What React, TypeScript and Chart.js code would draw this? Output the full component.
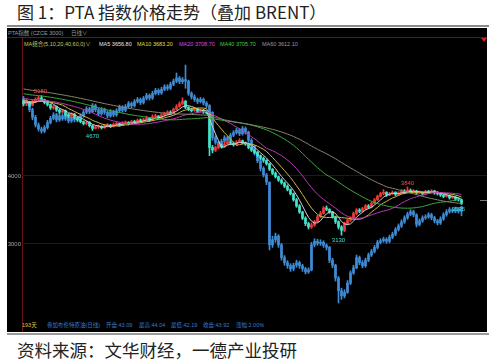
import React, { useEffect, useRef } from 'react';
import { Chart, registerables } from 'chart.js';
Chart.register(...registerables);

// PTA index closes before the visible window (used only for moving averages)
const ptaPrior = [
  5520, 5500, 5480, 5510, 5470, 5450, 5460, 5430, 5440, 5410, 5420, 5390, 5400, 5380, 5370, 5390, 5360, 5350, 5370, 5340,
  5330, 5350, 5320, 5310, 5330, 5300, 5290, 5310, 5280, 5270, 5290, 5260, 5250, 5270, 5240, 5230, 5250, 5220, 5210, 5230,
  5200, 5190, 5210, 5180, 5170, 5190, 5160, 5150, 5170, 5140, 5130, 5150, 5120, 5110, 5130, 5100, 5090, 5110, 5080,
];
const ptaFirstOpen = 5100;
const ptaClose = [
  5060, 5090, 5040, 5100, 5130, 5150, 5120, 5080, 5050, 5000,
  5020, 4970, 4940, 4960, 4900, 4880, 4910, 4860, 4830, 4800,
  4770, 4790, 4740, 4700, 4720, 4730, 4710, 4740, 4750, 4730,
  4760, 4770, 4750, 4780, 4790, 4770, 4800, 4790, 4820, 4810,
  4830, 4850, 4820, 4870, 4880, 4860, 4900, 4910, 4940, 4920,
  4980, 5020, 5060, 5100, 5010, 4980, 4960, 4990, 4950, 4970,
  4940, 4930, 4420, 4380, 4420, 4450, 4430, 4470, 4500, 4480,
  4460, 4500, 4520, 4490, 4470, 4420, 4380, 4350, 4300, 4260,
  4230, 4180, 4100, 4040, 3990, 3940, 3900, 3850, 3800, 3740,
  3650, 3560, 3470, 3380, 3300, 3250, 3280, 3330, 3400, 3450,
  3530, 3510, 3470, 3400, 3330, 3250, 3200, 3300, 3350, 3380,
  3450, 3500, 3480, 3520, 3560, 3540, 3600, 3650, 3700, 3740,
  3760, 3720, 3740, 3760, 3730, 3750, 3780, 3760, 3790, 3770,
  3780, 3750, 3760, 3740, 3770, 3760, 3780, 3750, 3740, 3720,
  3700, 3710, 3680, 3690, 3660, 3650, 3595,
];
const ptaHigh = [
  5120, 5110, 5100, 5120, 5150, 5170, 5180, 5130, 5100, 5060,
  5040, 5030, 4990, 4980, 4970, 4920, 4930, 4920, 4870, 4840,
  4810, 4810, 4800, 4750, 4740, 4750, 4740, 4760, 4770, 4760,
  4780, 4790, 4780, 4800, 4810, 4800, 4820, 4820, 4840, 4840,
  4850, 4880, 4860, 4900, 4910, 4890, 4920, 4940, 4960, 4960,
  5000, 5050, 5090, 5150, 5110, 5020, 5000, 5010, 5000, 4990,
  4980, 4960, 4930, 4450, 4440, 4480, 4470, 4500, 4530, 4520,
  4500, 4520, 4550, 4530, 4500, 4480, 4430, 4390, 4360, 4310,
  4280, 4240, 4190, 4110, 4060, 4000, 3960, 3910, 3870, 3810,
  3750, 3670, 3580, 3480, 3400, 3320, 3310, 3350, 3420, 3480,
  3550, 3560, 3520, 3480, 3410, 3340, 3270, 3320, 3370, 3400,
  3470, 3520, 3520, 3540, 3580, 3580, 3620, 3670, 3720, 3760,
  3800, 3770, 3760, 3780, 3770, 3770, 3800, 3800, 3840, 3810,
  3800, 3790, 3780, 3770, 3790, 3790, 3800, 3790, 3770, 3750,
  3730, 3730, 3720, 3710, 3700, 3680, 3660,
];
const ptaLow = [
  5030, 5040, 5020, 5030, 5080, 5110, 5100, 5060, 5030, 4980,
  4980, 4950, 4920, 4920, 4880, 4860, 4870, 4840, 4810, 4780,
  4750, 4750, 4720, 4670, 4690, 4700, 4690, 4700, 4720, 4710,
  4720, 4740, 4730, 4740, 4770, 4750, 4760, 4770, 4780, 4790,
  4800, 4820, 4800, 4810, 4850, 4840, 4850, 4880, 4900, 4900,
  4910, 4970, 5010, 5050, 4990, 4960, 4940, 4950, 4930, 4940,
  4920, 4910, 4300, 4340, 4360, 4400, 4410, 4420, 4460, 4460,
  4440, 4450, 4490, 4470, 4450, 4400, 4360, 4330, 4280, 4240,
  4200, 4160, 4080, 4020, 3970, 3920, 3880, 3830, 3780, 3720,
  3630, 3540, 3450, 3360, 3270, 3220, 3230, 3260, 3320, 3390,
  3440, 3490, 3450, 3380, 3300, 3220, 3130, 3180, 3280, 3330,
  3370, 3430, 3460, 3470, 3500, 3520, 3530, 3590, 3640, 3690,
  3720, 3700, 3710, 3730, 3710, 3720, 3740, 3740, 3750, 3750,
  3760, 3730, 3740, 3720, 3730, 3740, 3750, 3730, 3720, 3700,
  3680, 3690, 3660, 3670, 3640, 3630, 3580,
];

// Brent overlay (own scale)
const brentFirstOpen = 65.2;
const brentClose = [
  64.8, 64.2, 63.0, 61.5, 60.0, 59.2, 58.8, 59.5, 60.5, 61.3,
  62.0, 61.0, 61.8, 61.2, 61.9, 60.8, 61.5, 61.0, 61.0, 61.8,
  62.5, 63.2, 62.6, 63.8, 63.0, 62.2, 63.0, 62.5, 61.8, 62.6,
  62.0, 62.8, 63.5, 62.9, 63.6, 64.2, 63.8, 64.6, 65.0, 64.4,
  65.2, 65.8, 65.3, 66.2, 66.8, 66.3, 67.0, 67.5, 67.2, 68.0,
  68.6, 69.2, 68.5, 68.9, 68.6, 66.2, 65.5, 65.0, 64.6, 65.0,
  64.3, 63.8, 62.5, 57.5, 56.6, 55.9, 56.8, 57.5, 57.0, 58.0,
  58.5, 59.0, 58.3, 59.3, 58.6, 57.0, 55.8, 54.5, 53.0, 51.5,
  50.2, 48.8, 36.5, 37.5, 38.2, 36.5, 34.0, 33.0, 32.4, 31.8,
  32.5, 33.0, 32.4, 31.8, 31.2, 31.6, 36.5, 37.2, 36.8, 37.0,
  36.4, 36.0, 33.5, 32.5, 30.0, 27.5, 26.5, 27.2, 29.0, 31.0,
  32.0, 34.0, 33.0, 32.4, 33.5, 34.5, 35.2, 36.0, 37.0, 37.3,
  37.6, 37.2, 38.0, 38.6, 39.5, 40.2, 41.0, 41.8, 42.5, 43.0,
  42.4, 40.5, 41.2, 41.8, 42.0, 42.4, 41.8, 41.2, 40.8, 41.6,
  42.4, 43.0, 43.4, 43.1, 43.5, 43.09, 43.92,
];
const brentHigh = [
  65.6, 65.1, 64.5, 63.3, 61.9, 60.4, 59.6, 59.9, 60.9, 61.7,
  62.4, 62.3, 62.2, 62.1, 62.3, 62.2, 61.9, 61.8, 61.4, 62.2,
  62.9, 63.6, 63.5, 64.2, 64.1, 63.3, 63.4, 63.3, 62.8, 63.0,
  62.9, 63.2, 63.9, 63.8, 64.0, 64.6, 64.5, 65.0, 65.4, 65.3,
  65.6, 66.2, 66.1, 66.6, 67.2, 67.1, 67.4, 67.9, 67.9, 68.4,
  69.0, 70.2, 69.5, 69.3, 71.75, 68.8, 66.5, 65.9, 65.3, 65.4,
  65.3, 64.6, 64.0, 62.6, 57.9, 56.9, 57.2, 57.9, 57.8, 58.4,
  58.9, 59.4, 59.3, 59.7, 59.6, 58.8, 57.3, 56.0, 54.8, 53.3,
  51.8, 50.5, 48.8, 38.2, 38.8, 38.5, 36.8, 34.4, 33.4, 32.8,
  32.9, 33.5, 33.3, 32.7, 32.1, 32.0, 37.0, 37.7, 37.6, 37.5,
  37.3, 36.7, 36.2, 33.9, 32.7, 30.3, 28.0, 27.7, 29.5, 31.4,
  32.5, 34.5, 34.3, 33.4, 33.9, 34.9, 35.6, 36.4, 37.4, 37.7,
  38.0, 37.9, 38.4, 39.0, 39.9, 40.6, 41.4, 42.2, 42.9, 43.4,
  43.3, 42.6, 41.6, 42.2, 42.4, 42.8, 42.7, 42.1, 41.5, 42.0,
  42.8, 43.4, 43.8, 43.7, 43.9, 43.8, 44.04,
];
const brentLow = [
  64.4, 63.8, 62.6, 61.0, 59.6, 58.8, 58.4, 58.5, 59.2, 60.2,
  61.0, 60.6, 60.7, 60.9, 60.9, 60.4, 60.5, 60.6, 60.6, 60.7,
  61.5, 62.2, 62.2, 62.4, 62.6, 61.8, 61.9, 62.1, 61.4, 61.5,
  61.6, 61.7, 62.5, 62.5, 62.6, 63.3, 63.4, 63.5, 64.3, 64.0,
  64.1, 64.9, 64.9, 65.0, 65.9, 65.9, 66.0, 66.7, 66.8, 66.9,
  67.7, 68.3, 68.1, 68.1, 67.2, 65.8, 65.1, 64.6, 64.2, 64.3,
  63.9, 63.4, 62.1, 57.0, 56.2, 55.5, 55.6, 56.5, 56.6, 56.7,
  57.7, 58.2, 57.9, 58.0, 58.2, 56.6, 55.4, 54.1, 52.6, 51.0,
  49.8, 48.3, 35.5, 36.0, 37.0, 36.0, 33.5, 32.5, 31.9, 31.3,
  31.4, 32.1, 31.9, 31.3, 30.8, 30.9, 31.4, 36.1, 36.4, 36.4,
  36.0, 35.5, 33.0, 32.0, 29.4, 25.1, 25.8, 26.1, 27.0, 28.7,
  30.7, 31.8, 32.6, 32.0, 32.1, 33.2, 34.2, 34.9, 35.7, 36.7,
  37.0, 36.8, 36.9, 37.7, 38.3, 39.2, 39.9, 40.7, 41.5, 42.2,
  42.0, 40.0, 40.2, 40.9, 41.5, 41.7, 41.4, 40.8, 40.4, 40.5,
  41.3, 42.1, 42.7, 42.8, 42.8, 42.7, 42.19,
];

const maPeriods = [5, 10, 20, 40, 60];
const maColors = ['#d0d0d0', '#d0b840', '#b838b8', '#3ca83c', '#86866f'];
const yTicks = [3000, 4000];
const blankSlots = 8;

// extreme-value labels drawn by the chart software
const markers = [
  { i: 6, src: 'high', color: '#ff4a4a', dx: -1, dy: -4 },
  { i: 23, src: 'low', color: '#40e0d0', dx: 0, dy: 6 },
  { i: 106, src: 'low', color: '#40e0d0', dx: -3, dy: 5 },
  { i: 128, src: 'high', color: '#ff4a4a', dx: 0, dy: -4 },
  { i: 146, src: 'close', color: '#40e0d0', dx: -3, dy: 6 },
];

const legendItems = [
  { left: 24, color: '#c8c860', text: 'MA组合(5,10,20,40,60,0)∨' },
  { left: 99, color: '#e8e8e8', text: 'MA5 3656.80' },
  { left: 137, color: '#e8d840', text: 'MA10 3683.20' },
  { left: 179, color: '#e040e0', text: 'MA20 3708.70' },
  { left: 220, color: '#40d040', text: 'MA40 3705.70' },
  { left: 262, color: '#9a9a9a', text: 'MA60 3612.10' },
];
const footItems = [
  { left: 22, color: '#d8c840', text: '193天' },
  { left: 47, color: '#3a7cc8', text: '叠加布伦特原油(日线)' },
  { left: 106, color: '#3a7cc8', text: '开盘:43.09' },
  { left: 139, color: '#3a7cc8', text: '最高:44.04' },
  { left: 171, color: '#3a7cc8', text: '最低:42.19' },
  { left: 203, color: '#3a7cc8', text: '收盘:43.92' },
  { left: 236, color: '#3a7cc8', text: '涨幅:2.00%' },
];

const SMALL_FONT = '"Liberation Sans", "Noto Sans CJK SC", sans-serif';
const CJK_FONT = '"Noto Sans CJK SC", sans-serif';

export default function App() {
  const ref = useRef<HTMLCanvasElement>(null);

  useEffect(() => {
    const n = ptaClose.length;
    const labels = Array.from({ length: n + blankSlots }, (_, i) => String(i + 1));
    const ptaOpen = ptaClose.map((c, i) => (i === 0 ? ptaFirstOpen : ptaClose[i - 1]));
    const brentOpen = brentClose.map((c, i) => (i === 0 ? brentFirstOpen : brentClose[i - 1]));
    const up = '#f03a3a';
    const down = '#44e4cc';
    const ptaColors = ptaClose.map((c, i) => (c >= ptaOpen[i] ? up : down));
    const brentColor = '#3f8cd6';
    const full = ptaPrior.concat(ptaClose);
    const off = ptaPrior.length;
    const maData = maPeriods.map((p) =>
      ptaClose.map((_, i) => {
        const end = off + i;
        const start = Math.max(0, end - p + 1);
        let s = 0;
        for (let k = start; k <= end; k++) s += full[k];
        return s / (end - start + 1);
      })
    );

    const markerPlugin = {
      id: 'markers',
      afterDatasetsDraw(chart: any) {
        const { ctx, scales } = chart;
        ctx.save();
        ctx.font = '6px "Liberation Sans"';
        ctx.textAlign = 'center';
        ctx.textBaseline = 'middle';
        markers.forEach((m) => {
          const v = m.src === 'high' ? ptaHigh[m.i] : m.src === 'low' ? ptaLow[m.i] : ptaClose[m.i];
          const px = scales.x.getPixelForValue(m.i) + m.dx;
          const py = scales.y.getPixelForValue(v) + m.dy;
          ctx.fillStyle = m.color;
          ctx.fillText(String(v), px, py);
        });
        ctx.restore();
      },
    };

    const datasets: any[] = [
      {
        type: 'bar', label: 'BRENT wick', yAxisID: 'y2', grouped: false, order: 10,
        data: brentLow.map((l, i) => [l, brentHigh[i]]), backgroundColor: brentColor, barThickness: 1,
      },
      {
        type: 'bar', label: 'BRENT', yAxisID: 'y2', grouped: false, order: 9, minBarLength: 1,
        data: brentClose.map((c, i) => [brentOpen[i], c]), backgroundColor: brentColor, barThickness: 2,
      },
      {
        type: 'bar', label: 'PTA wick', yAxisID: 'y', grouped: false, order: 8,
        data: ptaLow.map((l, i) => [l, ptaHigh[i]]), backgroundColor: ptaColors, barThickness: 1,
      },
      {
        type: 'bar', label: 'PTA', yAxisID: 'y', grouped: false, order: 7, minBarLength: 1,
        data: ptaClose.map((c, i) => [ptaOpen[i], c]), backgroundColor: ptaColors, barThickness: 2,
      },
      ...maPeriods.map((p, k) => ({
        type: 'line', label: 'MA' + p, yAxisID: 'y', order: 5 - k,
        data: maData[k], borderColor: maColors[k], borderWidth: 1, pointRadius: 0, tension: 0, fill: false,
      })),
    ];

    const chart = new Chart(ref.current as HTMLCanvasElement, {
      type: 'bar',
      data: { labels, datasets },
      options: {
        animation: false,
        responsive: false,
        devicePixelRatio: 1,
        layout: { padding: { top: 9, bottom: 13, left: 0, right: 0 } },
        plugins: { legend: { display: false }, tooltip: { enabled: false } },
        scales: {
          x: { type: 'category', display: false, offset: true },
          y: {
            type: 'linear', position: 'left', min: 1897, max: 6044,
            afterBuildTicks: (scale: any) => { scale.ticks = yTicks.map((v) => ({ value: v })); },
            afterFit: (scale: any) => { scale.width = 15; },
            ticks: { color: '#a0a0a0', font: { size: 6, family: 'Liberation Sans' }, padding: 1, autoSkip: false, callback: (v: any) => String(v) },
            grid: { color: '#3e0c0c', drawTicks: false, lineWidth: 1 },
            border: { display: false },
          },
          y2: { type: 'linear', display: false, min: 21.96, max: 77.25 },
        },
      } as any,
      plugins: [markerPlugin],
    });
    return () => chart.destroy();
  }, []);

  const small = (key: string, left: number, top: number, color: string, text: string) => (
    <span key={key} style={{ position: 'absolute', left, top, color, fontSize: 5.5, lineHeight: '6px', whiteSpace: 'nowrap', fontFamily: SMALL_FONT }}>{text}</span>
  );

  return (
    <div style={{ position: 'fixed', left: 0, top: 0, width: 500, height: 364, background: '#fff', overflow: 'hidden' }}>
      <div style={{ position: 'absolute', left: 17, top: 2, fontSize: 17, lineHeight: '20px', color: '#222', fontFamily: CJK_FONT, whiteSpace: 'nowrap' }}>
        图 1：PTA 指数价格走势（叠加 BRENT）
      </div>
      <div style={{ position: 'absolute', left: 7, top: 25, width: 482, height: 2, background: '#8a8a8a' }} />
      <div style={{ position: 'absolute', left: 7, top: 28, width: 480, height: 304, background: '#000' }} />
      <div style={{ position: 'absolute', left: 7, top: 37, width: 480, height: 1, background: '#6e1414' }} />
      <div style={{ position: 'absolute', left: 22, top: 37, width: 1, height: 295, background: '#6e1414' }} />
      <div style={{ position: 'absolute', left: 481, top: 38, width: 0, height: 0, borderLeft: '3px solid transparent', borderRight: '3px solid transparent', borderTop: '4px solid #d02020' }} />
      <div style={{ position: 'absolute', left: 480, top: 200, width: 7, height: 1, background: '#777' }} />
      {small('hdr1', 8, 30, '#9a9a9a', 'PTA指数 (CZCE 3000)')}
      {small('hdr2', 71, 30, '#9a9a9a', '日线∨')}
      {legendItems.map((it, k) => small('lg' + k, it.left, 41, it.color, it.text))}
      {footItems.map((it, k) => small('ft' + k, it.left, 322, it.color, it.text))}
      <canvas ref={ref} width={480} height={304} style={{ position: 'absolute', left: 7, top: 28, width: 480, height: 304 }} />
      <div style={{ position: 'absolute', left: 7, top: 333, width: 482, height: 2, background: '#9a9a9a' }} />
      <div style={{ position: 'absolute', left: 17, top: 339, fontSize: 17.5, lineHeight: '22px', color: '#222', fontFamily: CJK_FONT, whiteSpace: 'nowrap' }}>
        资料来源：文华财经，一德产业投研
      </div>
    </div>
  );
}
